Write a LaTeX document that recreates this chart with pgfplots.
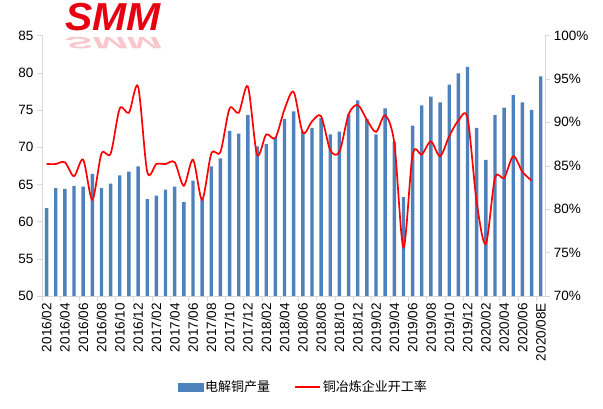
\documentclass[border=0pt]{standalone}
\usepackage{pgfplots}
\pgfplotsset{compat=1.18}
\usepackage{fontspec}
\setmainfont{Liberation Sans}
\newfontfamily\cjk{Noto Sans CJK SC}
\definecolor{barblue}{HTML}{4F81BD}
\definecolor{axgray}{HTML}{D9D9D9}
\definecolor{logored}{HTML}{E60012}
\begin{document}
\begin{tikzpicture}[x=1bp,y=1bp]
\useasboundingbox (0,0) rectangle (603,408);
\fill[white] (0,0) rectangle (603,408);
% logo
\node[anchor=north, inner sep=0pt, text=logored, xscale=1.05, font=\fontsize{39bp}{39bp}\selectfont\bfseries\itshape] at (113,405) {SMM};
\node[anchor=north, inner sep=0pt, text=logored!22, xscale=1.05, yscale=-0.42, font=\fontsize{39bp}{39bp}\selectfont\bfseries\itshape] at (113,359) {SMM};
\begin{axis}[
  at={(42bp,112bp)}, anchor=south west, scale only axis,
  width=503.3bp, height=260.5bp,
  xmin=0.5, xmax=55.5, ymin=50, ymax=85,
  ytick={50,55,...,85},
  axis y line*=left, axis x line*=bottom,
  axis line style={draw=axgray},
  tick align=outside, major tick length=5bp,
  y tick style={draw=axgray},
  xtick={1,3,...,55},
  major x tick style={draw=none},
  xticklabels={2016/02,2016/04,2016/06,2016/08,2016/10,2016/12,2017/02,2017/04,2017/06,2017/08,2017/10,2017/12,2018/02,2018/04,2018/06,2018/08,2018/10,2018/12,2019/02,2019/04,2019/06,2019/08,2019/10,2019/12,2020/02,2020/04,2020/06,2020/08E},
  x tick label style={rotate=90, anchor=east, font=\fontsize{13.5bp}{14bp}\selectfont, inner sep=2bp},
  y tick label style={font=\fontsize{13.5bp}{14bp}\selectfont},
  extra x ticks={0.5,2.5,...,54.5},
  extra x tick labels={},
  extra x tick style={major x tick style={draw=axgray}, major tick length=5bp},
  /pgf/number format/assume math mode=true,
  clip=false,
]
\addplot[ybar, bar width=3.4bp, fill=barblue, draw=none] coordinates {
(1,61.8)(2,64.5)(3,64.4)(4,64.8)(5,64.7)(6,66.4)(7,64.5)(8,65.1)(9,66.2)(10,66.7)(11,67.4)
(12,63.0)(13,63.5)(14,64.3)(15,64.7)(16,62.6)(17,65.5)(18,63.0)(19,67.4)(20,68.5)(21,72.2)(22,71.8)(23,74.3)
(24,70.1)(25,70.4)(26,71.3)(27,73.8)(28,74.8)(29,72.1)(30,72.6)(31,73.9)(32,71.7)(33,72.1)(34,74.4)(35,76.3)
(36,73.8)(37,71.7)(38,75.2)(39,70.7)(40,63.3)(41,72.9)(42,75.6)(43,76.8)(44,76.0)(45,78.4)(46,79.9)(47,80.8)
(48,72.6)(49,68.3)(50,74.3)(51,75.3)(52,77.0)(53,76.0)(54,75.0)(55,79.5)
};
\end{axis}
\begin{axis}[
  at={(42bp,112bp)}, anchor=south west, scale only axis,
  width=503.3bp, height=260.5bp,
  xmin=0.5, xmax=55.5, ymin=70, ymax=100,
  ytick={70,75,...,100},
  axis y line*=right, axis x line=none,
  axis line style={draw=axgray},
  tick align=outside, major tick length=5bp,
  y tick style={draw=axgray},
  yticklabel={\pgfmathprintnumber{\tick}\%},
  y tick label style={font=\fontsize{13.5bp}{14bp}\selectfont},
  /pgf/number format/assume math mode=true,
  legend style={at={(0.519,-0.349)}, anchor=center, draw=none, fill=none,
    legend columns=2, font=\cjk\fontsize{13bp}{14bp}\selectfont,
    /tikz/every even column/.append style={column sep=22bp}},
  clip=false,
]
\addlegendimage{area legend, legend image code/.code={\fill[barblue] (0bp,-4bp) rectangle (25bp,4bp);}}
\addlegendentry{电解铜产量}
\addplot[red, line width=1.7bp, smooth, tension=0.5,
  legend image code/.code={\draw[red, line width=1.7bp] (0bp,0bp) -- (25bp,0bp);}] coordinates {
(1,85.2)(2,85.2)(3,85.4)(4,83.8)(5,85.7)(6,81.1)(7,86.4)(8,86.4)(9,91.6)(10,91.1)(11,94.1)
(12,84.3)(13,85.2)(14,85.2)(15,85.4)(16,82.7)(17,85.7)(18,81.1)(19,86.4)(20,86.6)(21,91.6)(22,91.1)(23,94.1)
(24,86.3)(25,88.6)(26,88.2)(27,91.5)(28,93.5)(29,88.8)(30,90.1)(31,90.7)(32,86.8)(33,86.6)(34,90.9)(35,92.0)
(36,90.3)(37,88.9)(38,90.8)(39,87.6)(40,75.6)(41,86.3)(42,86.3)(43,87.8)(44,86.1)(45,88.4)(46,90.2)(47,90.5)
(48,80.8)(49,76.0)(50,83.6)(51,83.6)(52,86.1)(53,84.3)(54,83.3)
};
\addlegendentry{铜冶炼企业开工率}
\end{axis}
\end{tikzpicture}
\end{document}
